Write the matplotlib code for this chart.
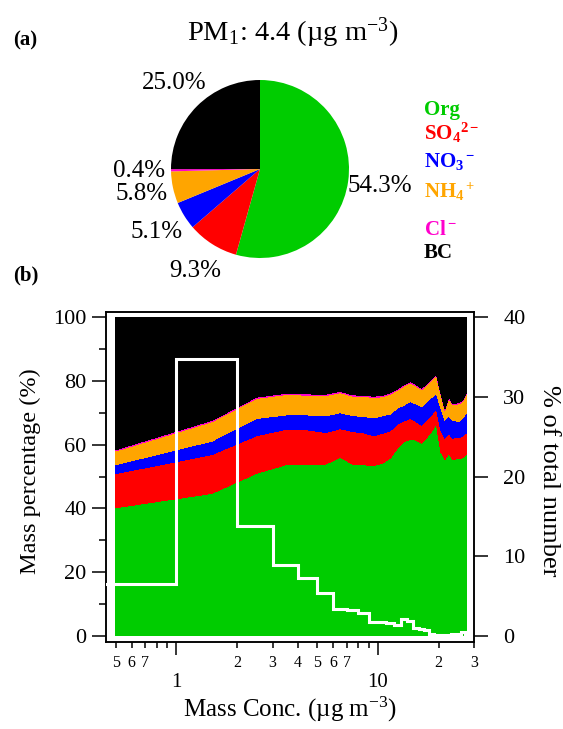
import numpy as np
import matplotlib.pyplot as plt
from matplotlib.ticker import FixedLocator, FuncFormatter

plt.rcParams['font.family'] = ['Liberation Serif', 'DejaVu Serif']
plt.rcParams['mathtext.fontset'] = 'custom'
plt.rcParams['mathtext.rm'] = 'Liberation Serif'
plt.rcParams['mathtext.it'] = 'Liberation Serif:italic'
plt.rcParams['mathtext.bf'] = 'Liberation Serif:bold'

# (a) composicion media de PM1
species_labels = ['Org', r'$\mathbf{SO_4{}^{2-}}$', r'$\mathbf{NO_3{}^-}$',
                  r'$\mathbf{NH_4{}^+}$', r'$\mathbf{Cl^-}$', 'BC']
species_colors = ['#00CC00', '#FF0000', '#0000FF', '#FFA500', '#FF00CC', '#000000']
pie_frac = [54.3, 9.3, 5.1, 5.8, 0.4, 25.0]
pm1_mean = 4.4

# (b) fracciones de masa por intervalo de concentracion (1 ug m-3)
bin_edges = np.arange(0, 29)
conc = bin_edges[:-1] + 0.5
org = [40.2, 44.7, 51.0, 53.7, 53.8, 53.9, 56.0, 53.9, 53.7, 53.4, 54.1, 55.7, 58.8, 60.9,
       61.7, 61.4, 60.4, 62.3, 64.1, 66.7, 57.8, 55.4, 57.1, 55.4, 55.5, 55.5, 56.0, 57.1]
so4 = [10.7, 12.2, 11.8, 11.1, 10.8, 9.9, 9.0, 10.2, 10.0, 9.4, 9.4, 8.6, 7.7, 6.6,
       6.5, 5.8, 5.7, 5.4, 5.2, 4.7, 6.7, 6.6, 6.4, 6.6, 6.7, 6.8, 6.8, 6.6]
no3 = [2.8, 4.2, 5.4, 4.5, 4.7, 5.2, 5.0, 5.0, 5.1, 5.6, 5.5, 5.3, 4.9, 4.9,
       5.3, 5.5, 5.8, 5.8, 5.5, 4.7, 7.0, 5.7, 5.6, 5.5, 5.2, 5.1, 5.7, 6.3]
nh4 = [4.3, 6.1, 6.3, 6.4, 6.2, 6.4, 6.3, 6.1, 6.3, 6.4, 6.0, 6.2, 5.7, 6.0,
       5.9, 5.7, 5.4, 5.2, 5.5, 5.7, 4.5, 3.1, 5.4, 5.0, 5.2, 5.5, 5.3, 5.9]
cl = [0.4] * 28
bc = 100 - np.sum([org, so4, no3, nh4, cl], axis=0)

# porcentaje del numero total de muestras en cada intervalo
number_frac = [6.5, 34.8, 13.8, 8.9, 7.3, 5.4, 3.4, 3.3, 2.9, 1.8, 1.7, 1.6, 1.4, 2.1,
               1.9, 1.0, 0.9, 0.7, 0.3, 0.1, 0.1, 0.1, 0.1, 0.2, 0.3, 0.3, 0.5, 0.2]

W, H = 563, 729
fig = plt.figure(figsize=(W / 100, H / 100), dpi=100)

# ---- (a) pastel ----
ax_pie = fig.add_axes([(260 - 89) / W, 1 - (169 + 89) / H, 178 / W, 178 / H])
wedges, _ = ax_pie.pie(pie_frac, colors=species_colors, startangle=90,
                       counterclock=False, radius=1,
                       wedgeprops=dict(linewidth=0))
for w, v in zip(wedges, pie_frac):
    ang = np.deg2rad((w.theta1 + w.theta2) / 2)
    ax_pie.text(1.36 * np.cos(ang), 1.36 * np.sin(ang), f'{v:.1f}%',
                ha='center', va='center', fontsize=18)
ax_pie.set_xlim(-1, 1)
ax_pie.set_ylim(-1, 1)
ax_pie.set_aspect('equal')
ax_pie.axis('off')

fig.text(293 / W, 1 - 33 / H, f'PM$_1$: {pm1_mean} (µg m$^{{-3}}$)',
         ha='center', va='center', fontsize=20.5)
fig.text(13 / W, 1 - 40 / H, '(a)', fontsize=15, fontweight='bold', va='center')
fig.text(13 / W, 1 - 275 / H, '(b)', fontsize=15, fontweight='bold', va='center')

legend_y = [115, 140, 167, 198, 235, 258]
for lab, col, y in zip(species_labels, species_colors, legend_y):
    fig.text(424 / W, 1 - y / H, lab, color=col, fontsize=15,
             fontweight='bold', va='baseline')

# ---- (b) areas apiladas ----
ax = fig.add_axes([106 / W, 1 - 642 / H, 368 / W, 330 / H])
ax.stackplot(conc, org, so4, no3, nh4, cl, bc, colors=species_colors,
             linewidth=0, antialiased=False)
ax.set_xscale('log')
ax.set_xlim(0.447, 30)
ax.set_ylim(-1.9, 101.6)

ax.set_yticks([0, 20, 40, 60, 80, 100])
ax.yaxis.set_minor_locator(FixedLocator([10, 30, 50, 70, 90]))
ax.tick_params(axis='y', which='major', length=10, width=1.1, labelsize=16, pad=4)
ax.tick_params(axis='y', which='minor', length=5, width=1.1)


def first_digit(v):
    return int(round(v / 10 ** np.floor(np.log10(v) + 1e-9)))


ax.xaxis.set_major_locator(FixedLocator([1, 10]))
ax.xaxis.set_major_formatter(FuncFormatter(lambda v, p: f'{v:g}'))
minor_x = [d * m for d in (0.1, 1, 10) for m in range(2, 10)]
ax.xaxis.set_minor_locator(FixedLocator(minor_x))
ax.xaxis.set_minor_formatter(FuncFormatter(
    lambda v, p: str(first_digit(v)) if first_digit(v) <= 7 else ''))
ax.tick_params(axis='x', which='major', length=9, width=1.1, labelsize=15, pad=13)
ax.tick_params(axis='x', which='minor', length=4.5, width=1.1, labelsize=11.5, pad=5)
for s in ax.spines.values():
    s.set_linewidth(1.1)

# ---- histograma de numero (eje derecho) ----
ax2 = ax.twinx()
ax2.stairs(number_frac, bin_edges, baseline=None, color='white',
           linewidth=2.2, zorder=3)
ax2.set_ylim(-1.9 * 0.4, 101.6 * 0.4)
ax2.set_yticks([0, 10, 20, 30, 40])
ax2.tick_params(axis='y', which='major', length=10, width=1.1, labelsize=16, pad=11)
for s in ax2.spines.values():
    s.set_linewidth(1.1)

fig.text(30 / W, 1 - 471 / H, 'Mass percentage (%)', rotation=90,
         ha='center', va='center', fontsize=17.5)
fig.text(549 / W, 1 - 481 / H, '% of total number', rotation=-90,
         ha='center', va='center', fontsize=19)
fig.text(290 / W, 1 - 717 / H, 'Mass Conc. (µg m$^{-3}$)',
         ha='center', va='baseline', fontsize=18)

fig.savefig('out.png', dpi=100)
